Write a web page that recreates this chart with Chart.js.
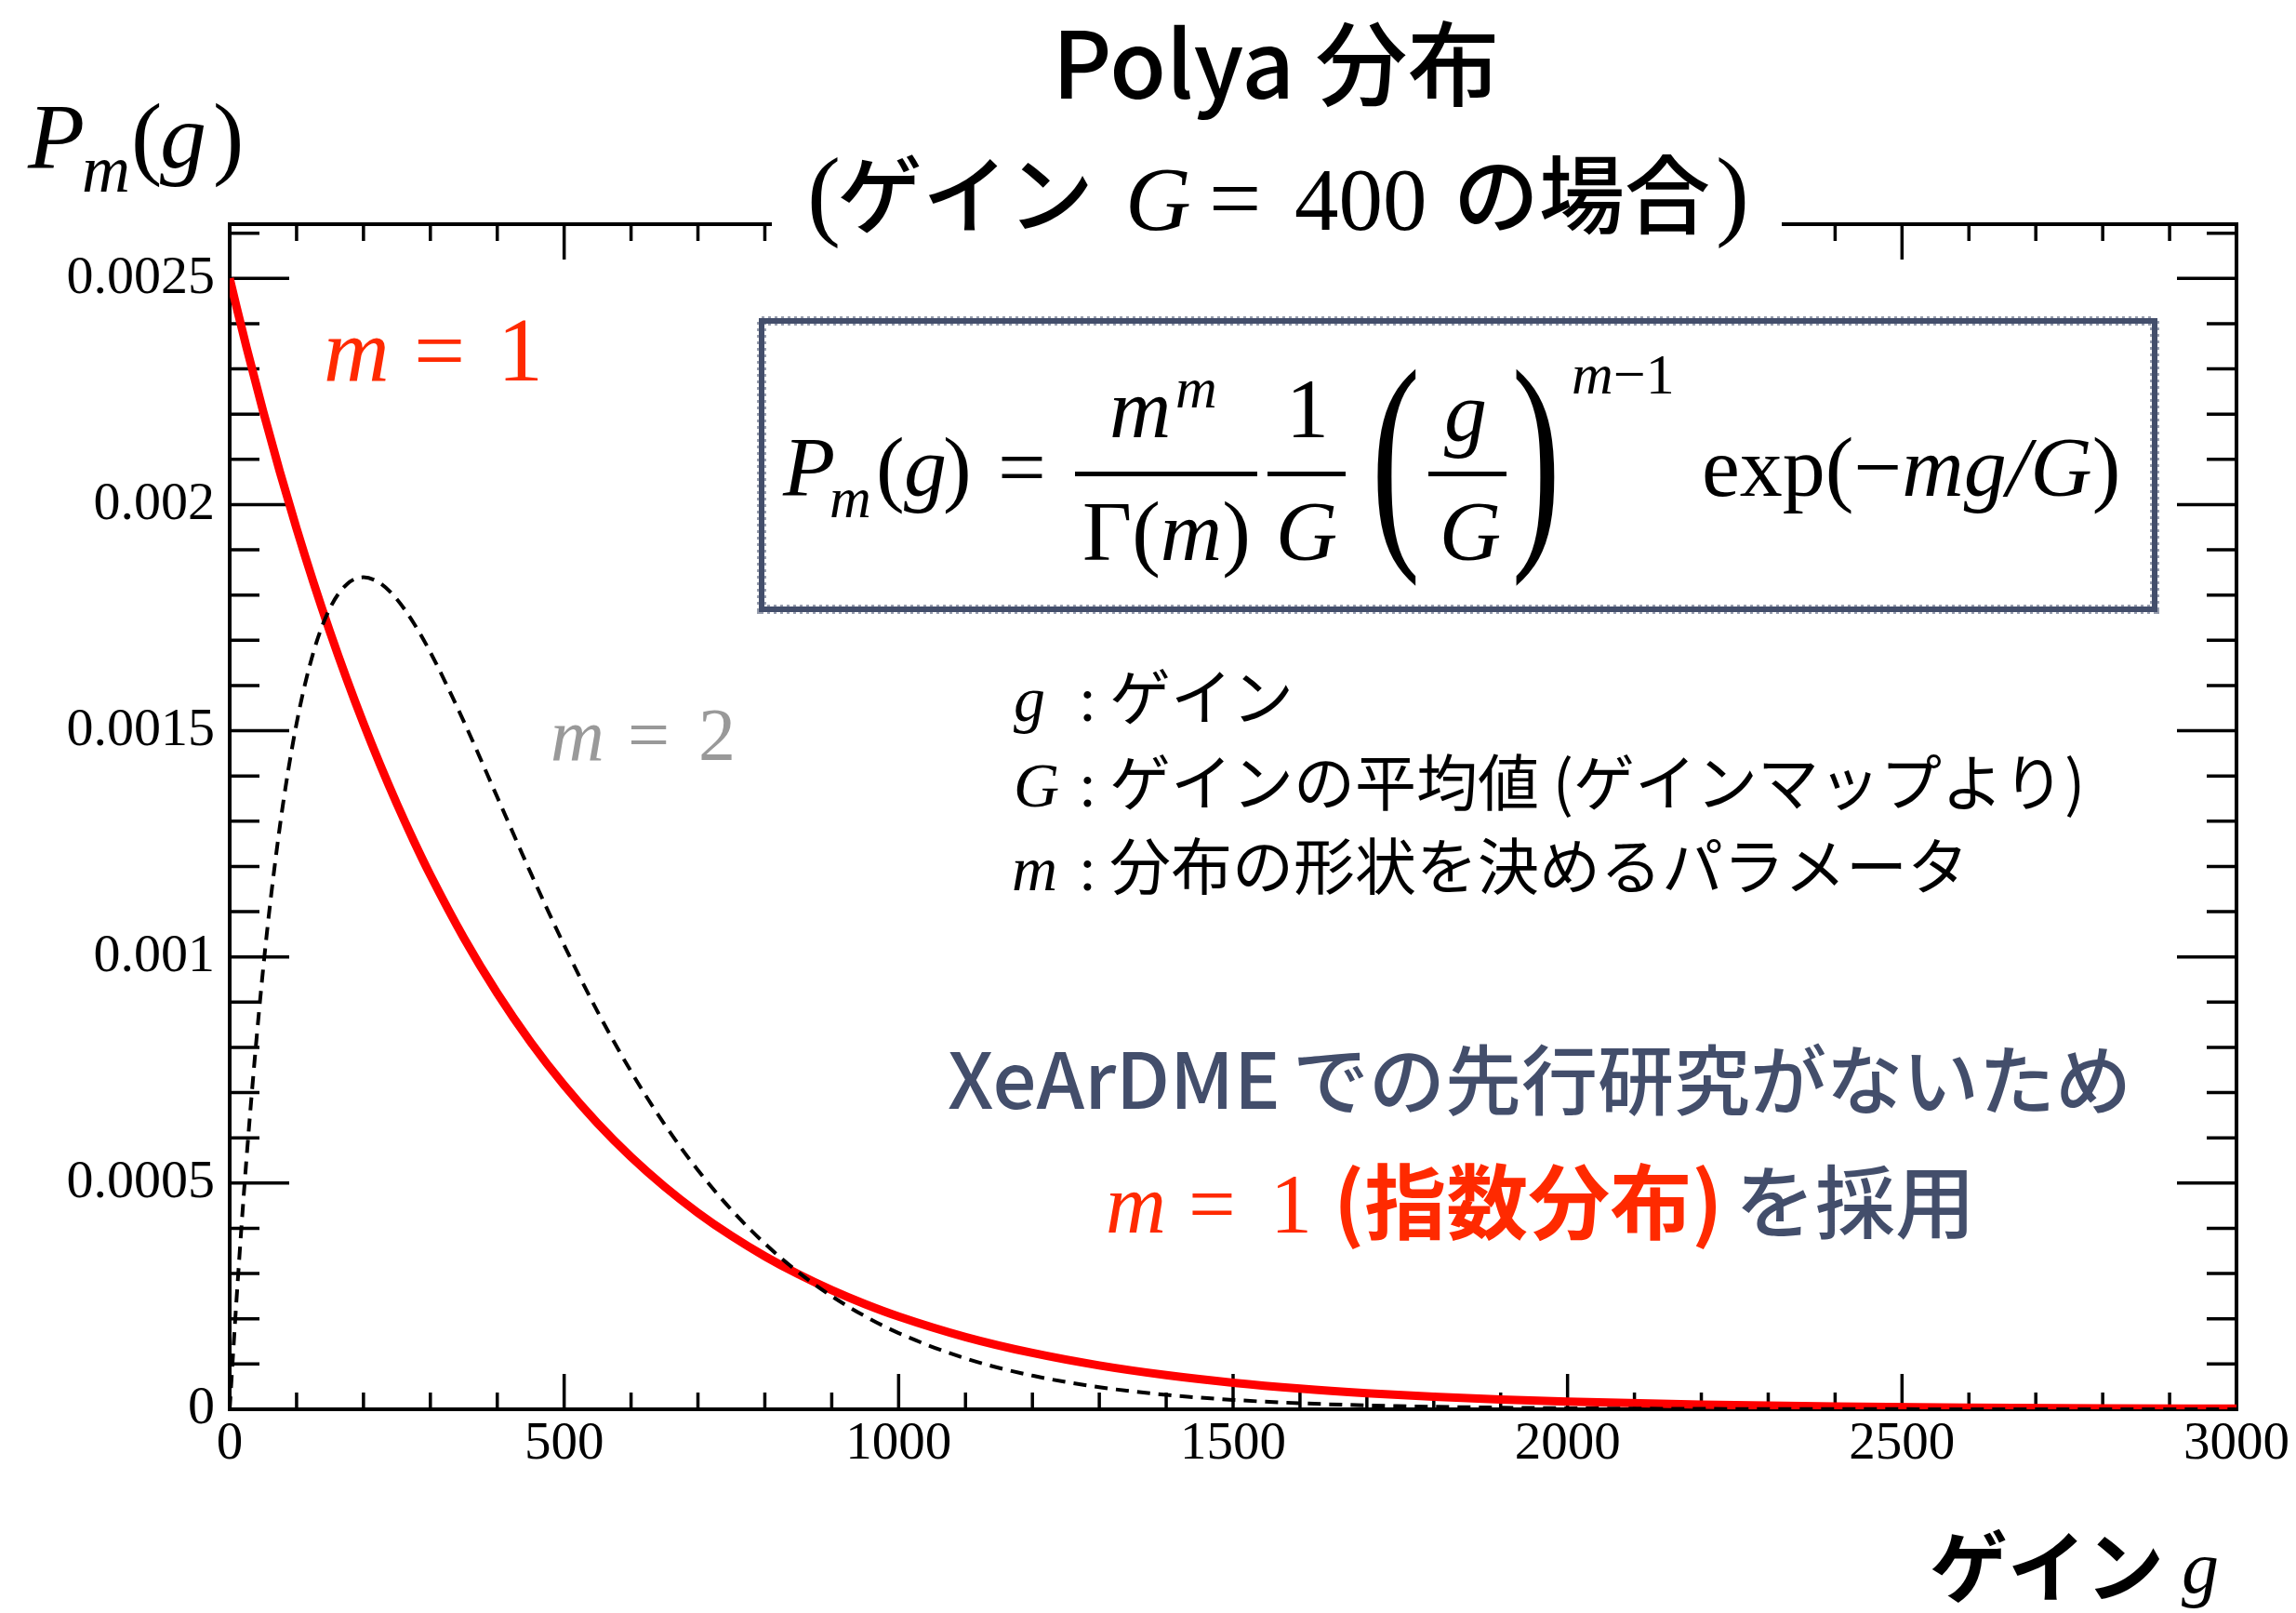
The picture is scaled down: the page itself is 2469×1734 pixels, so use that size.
<!DOCTYPE html>
<html><head><meta charset="utf-8">
<script src="https://cdn.jsdelivr.net/npm/chart.js@4.4.1/dist/chart.umd.min.js"></script>
<style>html,body{margin:0;padding:0;background:#fff;overflow:hidden}canvas{display:block}</style>
</head><body>
<canvas id="c" width="2469" height="1734"></canvas>
<script>
// ---- data ----
const gains = [0,10,25,50,75,100,125,150,175,200,225,250,275,300,350,400,450,500,550,600,650,700,750,800,850,900,950,1000,1100,1200,1300,1400,1500,1600,1700,1800,1900,2000,2200,2400,2600,2800,3000];
const polyaM1 = [0.0025,0.0024383,0.0023485,0.0022062,0.0020726,0.0019470,0.0018290,0.0017182,0.0016141,0.0015163,0.0014245,0.0013382,0.0012571,0.0011809,0.0010422,0.0009197,0.0008116,0.0007163,0.0006321,0.0005578,0.0004923,0.0004344,0.0003834,0.0003383,0.0002986,0.0002635,0.0002325,0.0002052,0.0001598,0.0001245,0.0000969,0.0000755,0.0000588,0.0000458,0.0000357,0.0000278,0.0000216,0.0000168,0.0000102,0.0000062,0.0000038,0.0000023,0.0000014];
const polyaM2 = [0,0.0002378,0.0005516,0.0009735,0.0012887,0.0015163,0.0016727,0.0017714,0.0018238,0.0018394,0.0018262,0.0017907,0.0017383,0.0016735,0.0015205,0.0013534,0.0011857,0.0010261,0.0008790,0.0007468,0.0006301,0.0005285,0.0004410,0.0003663,0.0003031,0.0002500,0.0002055,0.0001685,0.0001124,0.0000744,0.0000489,0.0000319,0.0000207,0.0000134,0.0000086,0.0000056,0.0000036,0.0000023,0.0000009,0.0000004,0.0000002,0.0000001,0.0000000];
const xRange = [0, 3000];
const yRange = [0, 0.00262];
const xMajorStep = 500, xMinorStep = 100;
const yMajorStep = 0.0005, yMinorStep = 0.0001;

// ---- styling ----
const SERIF = '"Liberation Serif", "Times New Roman", serif';
const JP = '"Noto Sans CJK JP", "Noto Sans", sans-serif';
const SLATE = '#434e6b';
const RED_TXT = '#ff2a00';
const isMult = (v, s) => Math.abs(v / s - Math.round(v / s)) < 1e-6;
const it = s => `italic ${s}px ${SERIF}`;
const rm = s => `${s}px ${SERIF}`;

function txt(ctx, s, x, y, font, color, align) {
  ctx.font = font; ctx.fillStyle = color || '#000';
  ctx.textAlign = align || 'left'; ctx.textBaseline = 'alphabetic';
  ctx.fillText(s, x, y);
}
function chain(ctx, parts, x, y, color) {
  ctx.fillStyle = color || '#000'; ctx.textAlign = 'left'; ctx.textBaseline = 'alphabetic';
  for (const [s, font] of parts) { ctx.font = font; ctx.fillText(s, x, y); x += ctx.measureText(s).width; }
  return x;
}
function bigParen(ctx, ch, inkLeft, top, bottom) {
  const fs = (bottom - top) / 0.853;
  const sx = 0.62;
  const lsb = ch === '(' ? 0.048 : 0.029;
  ctx.save();
  ctx.font = `${fs}px ${SERIF}`; ctx.fillStyle = '#000'; ctx.textAlign = 'left'; ctx.textBaseline = 'alphabetic';
  ctx.translate(inkLeft - lsb * fs * sx, top + 0.676 * fs);
  ctx.scale(sx, 1);
  ctx.fillText(ch, 0, 0);
  ctx.restore();
}

const framePlugin = {
  id: 'rootFrame',
  beforeDatasetsDraw(chart) {
    const {ctx, chartArea: a, scales: {x, y}} = chart;
    ctx.save();
    ctx.strokeStyle = '#000'; ctx.lineWidth = 3.5; ctx.lineCap = 'butt';
    ctx.beginPath();
    x.ticks.forEach(t => {
      if (!isMult(t.value, xMinorStep)) return;
      const px = x.getPixelForValue(t.value);
      const len = isMult(t.value, xMajorStep) ? 38 : 18;
      ctx.moveTo(px, a.bottom); ctx.lineTo(px, a.bottom - len);
      ctx.moveTo(px, a.top); ctx.lineTo(px, a.top + len);
    });
    y.ticks.forEach(t => {
      if (!isMult(t.value, yMinorStep)) return;
      const py = y.getPixelForValue(t.value);
      const len = isMult(t.value, yMajorStep) ? 64 : 32;
      ctx.moveTo(a.left, py); ctx.lineTo(a.left + len, py);
      ctx.moveTo(a.right, py); ctx.lineTo(a.right - len, py);
    });
    ctx.stroke();
    ctx.lineWidth = 4;
    ctx.strokeRect(a.left, a.top, a.right - a.left, a.bottom - a.top);
    ctx.restore();
  },
  afterDraw(chart) {
    const ctx = chart.ctx;
    ctx.save();
    // subtitle backing (covers frame top like ROOT pave)
    ctx.fillStyle = '#fff'; ctx.fillRect(830, 150, 1086, 140);

    // Title
    txt(ctx, 'Polya 分布', 1372, 106, `500 99px ${JP}`, '#000', 'center');
    // Subtitle
    txt(ctx, '(', 868, 244, rm(108));
    txt(ctx, 'ゲイン', 900, 244, `500 92px ${JP}`);
    txt(ctx, 'G', 1210, 247, it(98));
    txt(ctx, '=', 1300, 247, rm(100));
    txt(ctx, '400', 1392, 247, rm(95));
    txt(ctx, 'の場合', 1563, 244, `500 92px ${JP}`);
    txt(ctx, ')', 1845, 244, rm(108));

    // Y axis title P_m(g)
    txt(ctx, 'P', 30, 180, it(100));
    txt(ctx, 'm', 88, 206, it(72));
    txt(ctx, '(', 141, 180, rm(100));
    txt(ctx, 'g', 172, 180, it(100));
    txt(ctx, ')', 229, 180, rm(100));

    // X axis title
    txt(ctx, 'ゲイン', 2075, 1716, `bold 84px ${JP}`);
    txt(ctx, 'g', 2346, 1712, it(80));

    // curve labels
    txt(ctx, 'm', 348, 409, it(98), RED_TXT);
    txt(ctx, '=', 445, 409, rm(98), RED_TXT);
    txt(ctx, '1', 535, 409, rm(98), RED_TXT);
    txt(ctx, 'm', 592, 817, it(80), '#999999');
    txt(ctx, '=', 675, 817, rm(80), '#999999');
    txt(ctx, '2', 751, 817, rm(80), '#999999');

    // Formula box (rough slate border)
    ctx.strokeStyle = SLATE; ctx.lineWidth = 6;
    ctx.strokeRect(819, 345, 1498, 310);
    ctx.setLineDash([3, 4]); ctx.lineWidth = 10; ctx.globalAlpha = 0.55;
    ctx.strokeRect(819, 345, 1498, 310);
    ctx.setLineDash([]); ctx.globalAlpha = 1;

    const F = 92;
    txt(ctx, 'P', 842, 533, it(F));
    txt(ctx, 'm', 892, 556, it(62));
    txt(ctx, '(', 942, 533, rm(F));
    txt(ctx, 'g', 972, 533, it(F));
    txt(ctx, ')', 1014, 533, rm(F));
    txt(ctx, '=', 1073, 533, rm(F));
    ctx.fillStyle = '#000';
    ctx.fillRect(1156, 507, 196, 5);
    ctx.fillRect(1363, 507, 84, 5);
    ctx.fillRect(1536, 507, 84, 5);
    txt(ctx, 'm', 1193, 470, it(F));
    txt(ctx, 'm', 1264, 438, it(62));
    chain(ctx, [['Γ', rm(F)], ['(', rm(F)], ['m', it(F)], [')', rm(F)]], 1164, 602);
    txt(ctx, '1', 1406, 470, rm(F), '#000', 'center');
    txt(ctx, 'G', 1405, 602, it(F), '#000', 'center');
    bigParen(ctx, '(', 1482, 402, 620);
    txt(ctx, 'g', 1576, 474, it(F), '#000', 'center');
    txt(ctx, 'G', 1581, 602, it(F), '#000', 'center');
    bigParen(ctx, ')', 1630, 402, 620);
    chain(ctx, [['m', it(62)], ['−1', rm(62)]], 1690, 423);
    chain(ctx, [['exp(−', rm(F)], ['mg/G', it(F)], [')', rm(F)]], 1830, 533);

    // Description
    const D = 68, J = `66px ${JP}`;
    txt(ctx, 'g', 1090, 775, it(D)); txt(ctx, ':', 1160, 775, rm(D)); txt(ctx, 'ゲイン', 1193, 774, J);
    txt(ctx, 'G', 1090, 867, it(D)); txt(ctx, ':', 1160, 867, rm(D)); txt(ctx, 'ゲインの平均値 (ゲインマップより)', 1193, 866, J);
    txt(ctx, 'm', 1088, 957, it(D)); txt(ctx, ':', 1160, 957, rm(D)); txt(ctx, '分布の形状を決めるパラメータ', 1193, 956, J);

    // Conclusion
    txt(ctx, 'XeArDME', 1019, 1192, `500 83px ${JP}`, SLATE);
    txt(ctx, 'での先行研究がないため', 1390, 1192, `500 82px ${JP}`, SLATE);
    txt(ctx, 'm', 1189, 1325, it(90), RED_TXT);
    txt(ctx, '=', 1278, 1325, rm(90), RED_TXT);
    txt(ctx, '1', 1366, 1325, rm(90), RED_TXT);
    txt(ctx, '(指数分布)', 1434, 1325, `bold 88px ${JP}`, RED_TXT);
    txt(ctx, 'を採用', 1866, 1325, `500 86px ${JP}`, SLATE);
    ctx.restore();
  }
};

new Chart(document.getElementById('c'), {
  type: 'scatter',
  data: {
    datasets: [
      { label: 'm = 2', data: gains.map((g, i) => ({x: g, y: polyaM2[i]})), showLine: true,
        borderColor: '#000', borderWidth: 4, borderDash: [14, 9], pointRadius: 0,
        cubicInterpolationMode: 'monotone', fill: false, order: 0 },
      { label: 'm = 1', data: gains.map((g, i) => ({x: g, y: polyaM1[i]})), showLine: true,
        borderColor: '#ff0000', borderWidth: 9, pointRadius: 0,
        cubicInterpolationMode: 'monotone', fill: false, order: 1 }
    ]
  },
  options: {
    responsive: false, animation: false, devicePixelRatio: 1,
    layout: { padding: { left: 0, right: 64, top: 241, bottom: 0 } },
    plugins: { legend: { display: false }, tooltip: { enabled: false }, title: { display: false } },
    scales: {
      x: {
        type: 'linear', min: xRange[0], max: xRange[1],
        grid: { display: false, drawTicks: false }, border: { display: false },
        ticks: { stepSize: xMinorStep, autoSkip: false, maxRotation: 0, minRotation: 0, padding: 4,
          color: '#000', font: { family: 'Liberation Serif', size: 57 },
          callback: v => isMult(v, xMajorStep) ? String(Math.round(v)) : '' },
        afterFit: s => { s.height = 219; }
      },
      y: {
        type: 'linear', min: yRange[0], max: yRange[1],
        grid: { display: false, drawTicks: false }, border: { display: false },
        ticks: { stepSize: yMinorStep, includeBounds: false, autoSkip: false, padding: 16,
          color: '#000', font: { family: 'Liberation Serif', size: 58 },
          callback: v => isMult(v, yMajorStep) ? String(parseFloat(v.toFixed(6))) : '' },
        afterFit: s => { s.width = 247; }
      }
    }
  },
  plugins: [framePlugin]
});
</script>
</body></html>
